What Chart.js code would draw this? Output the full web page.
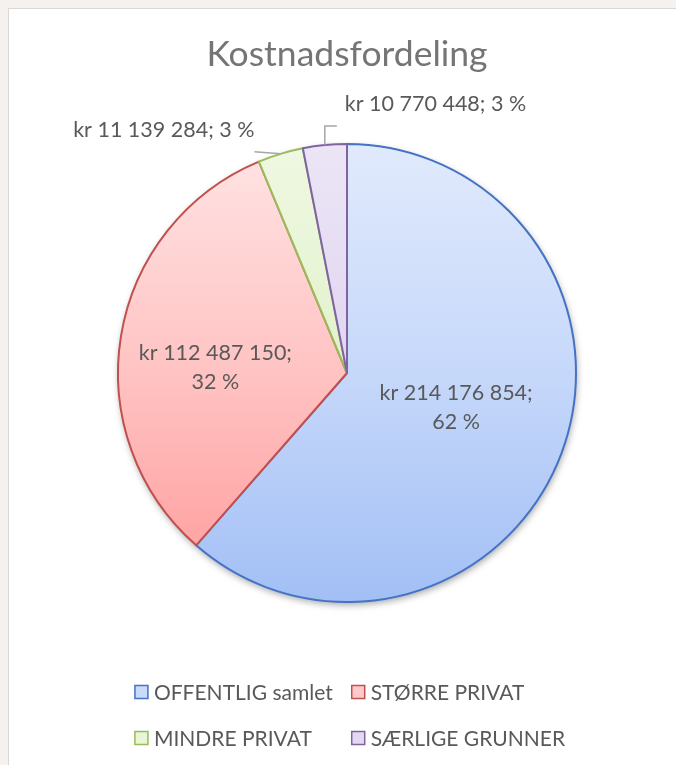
<!DOCTYPE html>
<html><head><meta charset="utf-8">
<script src="https://cdn.jsdelivr.net/npm/chart.js@4/dist/chart.umd.min.js"></script>
<style>
html,body{margin:0;padding:0;background:#f4f1ee;}
body{width:676px;height:765px;position:relative;overflow:hidden;}
#card{position:absolute;left:8px;top:8px;width:720px;height:800px;background:#fff;border:1px solid #d8d8d8;}
#wrap{position:absolute;left:0;top:0;width:676px;height:765px;}
</style></head><body>
<div id="card"></div>
<div id="wrap"><canvas id="c"></canvas></div>
<script>
// ---- data ----
const categories = ['OFFENTLIG samlet', 'STØRRE PRIVAT', 'MINDRE PRIVAT', 'SÆRLIGE GRUNNER'];
const costs = [214176854, 112487150, 11139284, 10770448];
const percentLabels = ['62 %', '32 %', '3 %', '3 %'];
const chartTitle = 'Kostnadsfordeling';

// ---- styling ----
const borderColors = ['#4472C4', '#C0504D', '#9BBB59', '#8064A2'];
const gradTop = ['#e1eafc', '#ffe4e4', '#eff8e2', '#ece5f6'];
const gradMid = ['#c6d8fa', '#ffc3c3', '#e2f2cc', '#e0d6f0'];
const gradBottom = ['#a2bff5', '#ff9a9a', '#d3ebb2', '#cdbfe6'];
const legendSwatch = ['#c9dafa', '#ffc9c9', '#e8f5d6', '#e2d9f1'];
const FONT = 'Lato, "Open Sans", sans-serif';
const TEXT = '#595959';

function fmt(v) { return 'kr ' + String(v).replace(/\B(?=(\d{3})+(?!\d))/g, ' '); }

function fillFor(ctx) {
  const chart = ctx.chart, a = chart.chartArea;
  if (!a) return gradMid[ctx.dataIndex];
  const g = chart.ctx.createLinearGradient(0, a.top, 0, a.bottom);
  g.addColorStop(0, gradTop[ctx.dataIndex]);
  g.addColorStop(0.5, gradMid[ctx.dataIndex]);
  g.addColorStop(1, gradBottom[ctx.dataIndex]);
  return g;
}

const shadowPlugin = {
  id: 'pieShadow',
  beforeDatasetsDraw(chart) {
    const arc = chart.getDatasetMeta(0).data[0];
    if (!arc) return;
    const c = chart.ctx;
    c.save();
    c.shadowColor = 'rgba(0,0,0,0.35)';
    c.shadowBlur = 7;
    c.shadowOffsetX = 1;
    c.shadowOffsetY = 3;
    c.fillStyle = '#ffffff';
    c.beginPath();
    c.arc(arc.x, arc.y, arc.outerRadius, 0, Math.PI * 2);
    c.fill();
    c.restore();
  }
};

// label placement: inside (radius fraction + angle shift in degrees) or outside with leader
const labelPlacement = [
  { inside: true, r: 0.5, shift: -3 },
  { inside: true, r: 0.575, shift: -7 },
  { inside: false, side: 'left' },
  { inside: false, side: 'right' }
];

const labelPlugin = {
  id: 'sliceLabels',
  afterDatasetsDraw(chart) {
    const c = chart.ctx;
    const meta = chart.getDatasetMeta(0);
    c.save();
    c.fillStyle = TEXT;
    c.font = '21.5px ' + FONT;
    c.textBaseline = 'middle';
    meta.data.forEach((arc, i) => {
      const p = labelPlacement[i];
      const mid = (arc.startAngle + arc.endAngle) / 2;
      const val = chart.data.datasets[0].data[i];
      if (p.inside) {
        const a = mid + p.shift * Math.PI / 180;
        const R = arc.outerRadius * p.r;
        const x = arc.x + Math.cos(a) * R, y = arc.y + Math.sin(a) * R;
        c.textAlign = 'center';
        c.fillText(fmt(val) + ';', x, y - 14.5);
        c.fillText(percentLabels[i], x, y + 14.5);
      } else {
        const ex = arc.x + Math.cos(mid) * arc.outerRadius;
        const ey = arc.y + Math.sin(mid) * arc.outerRadius;
        c.strokeStyle = '#a6a6a6';
        c.lineWidth = 1.5;
        c.beginPath();
        const txt = fmt(val) + '; ' + percentLabels[i];
        if (p.side === 'left') {
          const lx = ex - 26, ly = ey - 2;
          c.moveTo(ex, ey); c.lineTo(lx, ly); c.stroke();
          c.textAlign = 'right';
          c.fillText(txt, lx, ly - 22);
        } else {
          const ly = ey - 19, lx = ex + 12;
          c.moveTo(ex, ey); c.lineTo(ex, ly); c.lineTo(lx, ly); c.stroke();
          c.textAlign = 'left';
          c.fillText(txt, lx + 8, ly - 22);
        }
      }
    });
    c.restore();
  }
};

const legendPlugin = {
  id: 'gridLegend',
  afterDraw(chart) {
    const c = chart.ctx;
    const labels = chart.data.labels;
    c.save();
    c.font = '21px ' + FONT;
    c.textBaseline = 'middle';
    c.textAlign = 'left';
    const box = 13, gap = 6, colGap = 19;
    const w = labels.map(t => c.measureText(t).width);
    const col1 = Math.max(w[0], w[2]), col2 = Math.max(w[1], w[3]);
    const total = box + gap + col1 + colGap + box + gap + col2;
    const a = chart.chartArea;
    const x0 = (a.left + a.right) / 2 + 3 - total / 2;
    const xs = [x0, x0 + box + gap + col1 + colGap];
    const ys = [692, 738];
    labels.forEach((t, i) => {
      const x = xs[i % 2], y = ys[Math.floor(i / 2)];
      c.fillStyle = legendSwatch[i];
      c.fillRect(x, y - box / 2, box, box);
      c.strokeStyle = borderColors[i];
      c.lineWidth = 1.5;
      c.strokeRect(x, y - box / 2, box, box);
      c.fillStyle = TEXT;
      c.fillText(t, x + box + gap, y + 1);
    });
    c.restore();
  }
};

new Chart(document.getElementById('c'), {
  type: 'pie',
  data: {
    labels: categories,
    datasets: [{
      data: costs,
      backgroundColor: fillFor,
      borderColor: borderColors,
      borderWidth: 2,
      borderAlign: 'center',
      borderJoinStyle: 'round'
    }]
  },
  options: {
    responsive: true,
    maintainAspectRatio: false,
    devicePixelRatio: 1,
    animation: false,
    layout: { padding: { top: 8, bottom: 162, left: 117, right: 99 } },
    plugins: {
      legend: { display: false },
      tooltip: { enabled: false },
      title: {
        display: true,
        text: chartTitle,
        color: '#757575',
        font: { family: FONT, size: 35.5, weight: 'normal', lineHeight: 1.2 },
        padding: { top: 25, bottom: 67.4 }
      }
    }
  },
  plugins: [shadowPlugin, labelPlugin, legendPlugin]
});
</script>
</body></html>
